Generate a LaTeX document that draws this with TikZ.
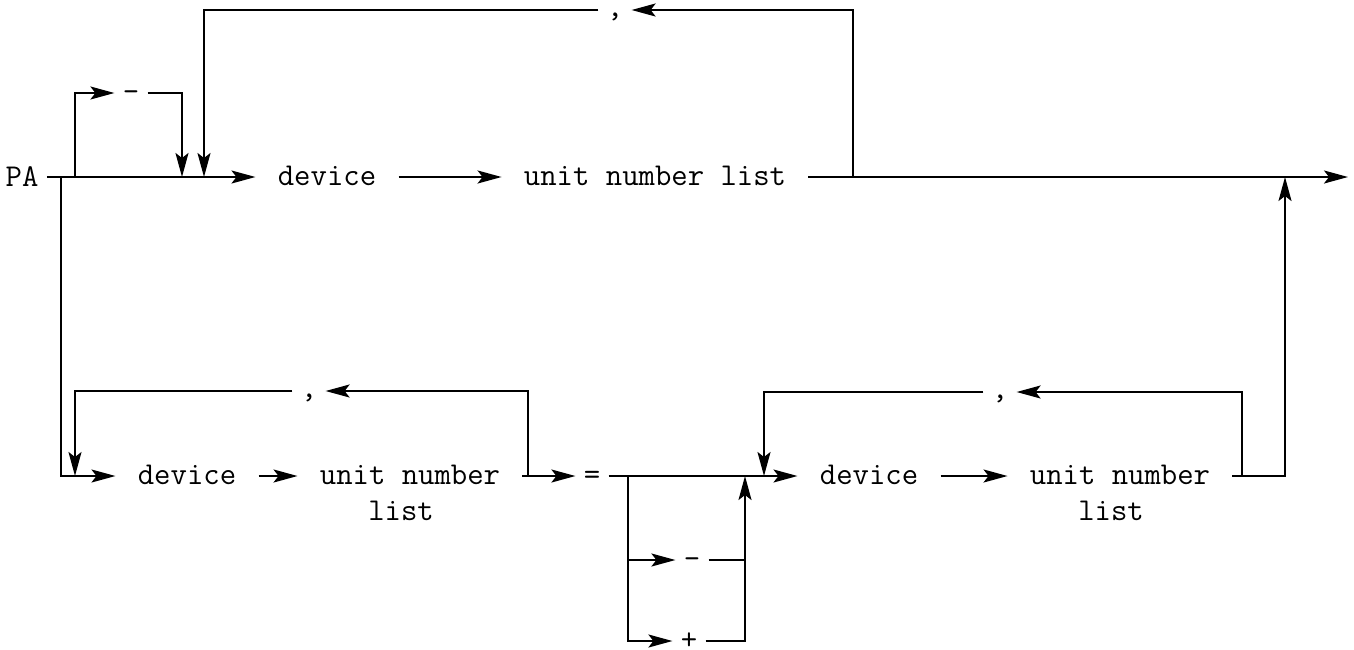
\documentclass[tikz,border=0pt]{standalone}
\usepackage{tikz}
\usetikzlibrary{arrows.meta}
\tikzset{
  wire/.style={line width=1pt},
  arr/.style={wire, -{Stealth[length=12pt,width=6.5pt,inset=2.5pt]}},
  word/.style={font=\fontsize{15.9}{19}\selectfont\ttfamily, inner xsep=11pt, inner ysep=1pt, anchor=mid,
    execute at begin node={\lower2pt\hbox\bgroup}, execute at end node={\egroup}},
  tok/.style={word, inner xsep=4pt}
}
\begin{document}
\begin{tikzpicture}[x=0.5pt,y=-0.5pt]
  \useasboundingbox (0,0) rectangle (1354,649);
  \node[word, anchor=center, inner xsep=4pt] (pa) at (22,177) {PA};
  \coordinate (a1) at (61,177);
  \coordinate (a2) at (75,177);
  \coordinate (a3) at (182,177);
  \coordinate (a4) at (204,177);
  \coordinate (a5) at (853,177);
  \coordinate (a6) at (1285,177);
  \coordinate (e1) at (1348,177);
  \node[word] (d1) at (327,177) {device};
  \node[word] (u1) at (655,177) {unit number list};
  \node[tok] (mn) at (131,93) {-};
  \node[tok] (c1) at (615,10) {\raisebox{1pt}{,}};

  \coordinate (b1) at (75,476);
  \coordinate (b2) at (528,476);
  \coordinate (b3) at (628,476);
  \coordinate (b4) at (745,476);
  \coordinate (b5) at (764,476);
  \coordinate (b6) at (1242,476);
  \coordinate (b8) at (745,560);
  \node[word] (d2) at (187,476) {device};
  \node[word] (u2) at (410,476) {unit number};
  \node[word] (l2) at (401,512) {list};
  \node[tok] (c2) at (309,391) {\raisebox{1pt}{,}};
  \node[tok] (eq) at (592,476) {=};
  \node[tok] (mn2) at (692,560) {-};
  \node[tok] (pl) at (689,641) {+};
  \node[word] (d3) at (869,476) {device};
  \node[word] (u3) at (1120,476) {unit number};
  \node[word] (l3) at (1111,512) {list};
  \node[tok] (c3) at (1000,392) {\raisebox{1pt}{,}};

  \draw[arr] (pa.east) -- (d1.mid west);
  \draw[arr] (d1.mid east) -- (u1.mid west);
  \draw[arr] (u1.mid east) -- (e1);
  \draw[arr] (a2) |- (mn.mid west);
  \draw[arr] (mn.mid east) -| (a3);
  \draw[arr] (a5) |- (c1.mid east);
  \draw[arr] (c1.mid west) -| (a4);

  \draw[arr] (a1) |- (d2.mid west);
  \draw[arr] (d2.mid east) -- (u2.mid west);
  \draw[arr] (u2.mid east) -- (eq.mid west);
  \draw[arr] (b2) |- (c2.mid east);
  \draw[arr] (c2.mid west) -| (b1);
  \draw[arr] (eq.mid east) -- (d3.mid west);
  \draw[arr] (b3) |- (mn2.mid west);
  \draw[arr] (b3) |- (pl.mid west);
  \draw[wire] (mn2.mid east) -- (b8);
  \draw[arr] (pl.mid east) -| (b4);
  \draw[arr] (d3.mid east) -- (u3.mid west);
  \draw[arr] (b6) |- (c3.mid east);
  \draw[arr] (c3.mid west) -| (b5);
  \draw[arr] (u3.mid east) -| (a6);
\end{tikzpicture}
\end{document}
